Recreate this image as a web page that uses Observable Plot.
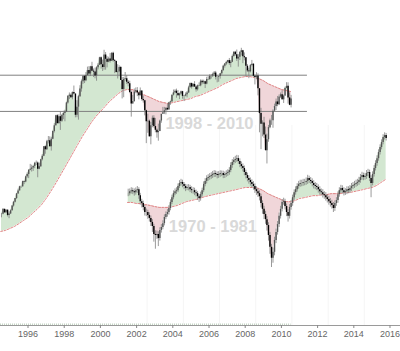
<!DOCTYPE html>
<html><head><meta charset="utf-8">
<script src="https://cdn.jsdelivr.net/npm/d3@7"></script>
<script src="https://cdn.jsdelivr.net/npm/@observablehq/plot@0.6"></script>
<style>html,body{margin:0;padding:0;background:#fff}#chart{width:400px;height:351px}</style>
</head><body><div id="chart"></div>
<script>
// ---- Upper series (monthly, from Jul 1994) ----
const topClose = [458,475,463,472,454,459,
470,487,501,515,533,545,562,562,584,582,605,616,
636,640,646,654,669,671,640,652,687,705,757,741,
786,791,757,801,848,885,954,899,947,915,955,970,
980,1049,1102,1112,1091,1134,1121,957,1017,1099,1164,1229,
1280,1238,1286,1335,1302,1373,1329,1320,1283,1363,1389,1469,
1394,1366,1499,1452,1421,1455,1431,1518,1437,1429,1315,1320,
1366,1240,1160,1249,1256,1224,1211,1134,1041,1060,1139,1148,
1130,1107,1147,1077,1067,990,912,916,815,886,936,880,
856,841,848,917,964,975,990,1008,996,1051,1058,1112,
1131,1145,1126,1107,1121,1141,1102,1104,1115,1130,1174,1212,
1181,1204,1181,1157,1192,1191,1234,1220,1229,1207,1249,1248,
1280,1281,1295,1311,1270,1270,1277,1304,1336,1378,1401,1418,
1438,1407,1421,1482,1531,1503,1455,1474,1527,1549,1481,1468,
1379,1331,1323,1386,1400,1280,1267,1283,1166,969,896,903,
826,735,798,873,919,919,987,1021,1057,1036,1096,1115,
1074,1104,1169,1187,1089,1031,1080];
const topHigh = [461,477,476,474,473,466,
473,488,503,515,534,552,564,565,586,587,608,623,
637,664,660,657,674,681,676,670,689,714,758,762,
794,817,815,812,851,899,957,961,960,983,963,986,
993,1055,1106,1130,1122,1139,1190,1122,1067,1110,1193,1244,
1281,1283,1316,1370,1375,1378,1420,1351,1360,1373,1408,1474,
1478,1444,1553,1527,1481,1475,1517,1525,1531,1450,1434,1395,
1383,1377,1268,1269,1316,1287,1239,1233,1146,1110,1164,1173,
1176,1131,1173,1147,1106,1070,994,965,924,907,952,954,
935,864,896,924,965,1015,1015,1011,1040,1054,1063,1112,
1155,1158,1163,1150,1128,1146,1144,1109,1131,1142,1188,1217,
1217,1212,1229,1192,1199,1219,1246,1245,1243,1233,1270,1276,
1295,1297,1310,1326,1327,1284,1280,1305,1340,1389,1407,1431,
1441,1461,1439,1498,1535,1540,1556,1503,1538,1576,1552,1523,
1471,1396,1359,1397,1440,1404,1292,1314,1303,1167,1008,918,
943,877,832,888,930,956,997,1040,1080,1101,1113,1130,
1150,1113,1180,1220,1219,1131,1110];
const topLow = [446,456,461,460,449,443,
457,469,483,498,511,532,544,555,560,571,579,599,
597,633,627,630,643,658,601,638,649,681,703,716,
737,773,756,733,798,839,883,898,898,855,908,926,
912,980,1040,1076,1086,1074,1114,939,940,923,1094,1137,
1205,1212,1229,1281,1276,1277,1325,1268,1256,1233,1342,1387,
1350,1326,1339,1339,1362,1415,1412,1429,1421,1305,1311,1254,
1275,1240,1081,1091,1233,1203,1182,1125,944,1040,1054,1124,
1100,1074,1106,1063,1048,953,775,837,815,768,872,870,
840,807,789,847,902,963,962,960,990,995,1031,1053,
1105,1124,1087,1105,1076,1113,1079,1060,1098,1090,1127,1173,
1163,1180,1177,1137,1146,1188,1183,1201,1205,1168,1201,1246,
1245,1253,1268,1280,1245,1219,1224,1253,1290,1327,1360,1385,
1403,1389,1364,1416,1476,1485,1429,1370,1439,1489,1406,1435,
1270,1316,1257,1312,1373,1272,1200,1247,1106,840,741,815,
805,735,666,783,866,888,869,978,992,1020,1029,1085,
1071,1045,1101,1166,1040,1028,1011];
// moving average of the upper series, quarterly from Jul 1994
const topMA = [403,406,412,418,427,437,447,461,475,492,515,542,572,607,644,683,725,770,817,860,907,949,984,1021,1060,1093,1126,1151,1160,1160,1143,1126,1109,1093,1076,1060,1052,1044,1052,1060,1068,1076,1084,1101,1109,1126,1143,1160,1177,1203,1221,1239,1258,1268,1277,1277,1268,1258,1239,1212,1194,1177,1160,1151,1143];

// ---- Lower series (1970 - 1981, overlaid, monthly from Jul 2001) ----
const botClose = [534,542,546,542,538,546,550,526,503,496,482,464,
464,454,444,431,418,394,391,394,382,406,415,427,
447,457,464,478,500,518,534,542,546,563,576,580,
572,563,555,559,559,550,546,546,538,534,522,515,
530,546,572,585,598,602,607,611,616,620,616,611,
616,620,620,611,616,620,625,634,658,673,683,688,
693,678,663,653,644,625,611,598,589,580,572,563,
550,542,534,522,496,475,457,440,421,391,358,330,
345,377,400,424,451,475,500,503,485,464,451,482,
496,518,538,550,563,572,576,576,580,580,585,598,
589,585,576,567,563,559,550,542,538,530,526,518,
511,503,496,489,478,496,507,530,546,555,546,538,
542,550,546,555,563,567,572,576,580,589,602,611,
602,607,620,625,598,576,616,644,668,693,725,753,
781,811,823,805];
const botHigh = [552,553,558,556,553,557,563,558,535,512,505,490,
476,472,463,452,440,425,405,404,402,414,424,436,
456,466,474,488,510,528,545,553,558,574,588,594,
590,580,572,570,571,568,562,558,556,548,542,530,
540,556,583,597,610,615,620,624,630,634,632,628,
629,633,632,631,627,633,638,648,672,688,698,705,
710,708,692,676,666,656,636,622,610,600,592,584,
574,562,553,545,532,506,486,468,450,430,400,366,
356,386,410,434,462,486,511,516,512,494,474,492,
507,528,549,562,575,585,590,590,594,594,600,612,
608,602,596,588,580,576,570,562,553,550,542,538,
530,523,515,508,500,506,518,541,558,568,566,558,
554,562,562,567,576,580,585,590,594,603,616,626,
622,621,634,640,636,610,628,658,682,708,740,768,
797,828,840,836];
const botLow = [522,525,532,530,524,528,535,512,490,480,470,452,
450,441,432,418,400,372,353,380,360,375,398,408,
420,440,448,455,470,492,510,526,531,538,555,565,
558,550,542,546,545,538,534,532,526,521,508,500,
505,520,538,562,574,586,590,594,598,602,603,596,
598,603,606,597,598,603,607,612,624,645,660,668,
674,664,648,640,628,610,596,583,573,565,557,548,
535,527,519,506,480,458,440,425,404,375,340,308,
318,336,368,392,415,442,466,490,473,450,432,442,
472,486,508,528,540,552,560,562,564,566,568,572,
576,572,562,553,550,546,536,528,525,517,512,505,
498,490,483,476,464,468,486,497,520,535,533,525,
527,530,534,535,543,551,555,560,564,568,577,590,
588,590,594,605,584,518,566,604,632,655,680,712,
740,768,796,790];
// moving average of the lower series, quarterly from Jul 2001
const botMA = [500,500,496,496,492,489,485,482,482,482,485,489,496,503,507,511,515,522,526,530,534,538,542,546,550,555,559,559,559,555,546,534,526,518,511,503,503,507,515,518,522,526,526,530,530,534,534,534,538,538,542,546,550,555,559,567,580,593];

// horizontal reference levels and labels
const levels = [1290, 985];
const labels = [
  {text: "1998 - 2010", date: "2006-01-10", value: 900},
  {text: "1970 - 1981", date: "2006-03-20", value: 418}
];
const tickYears = [1996,1998,2000,2002,2004,2006,2008,2010,2012,2014,2016];
const gridYears = [2002,2004,2006,2008,2010,2012,2014];

// ---- build tables ----
const U = (y, m, d) => new Date(Date.UTC(y, m, d));
function bars(close, high, low, y0, m0) {
  return close.map((c, i) => ({date: U(y0, m0 + i, 15), open: i ? close[i - 1] : c, close: c, high: high[i], low: low[i]}));
}
function maPts(ma, y0, m0) { return ma.map((v, i) => ({date: U(y0, m0 + 3 * i, 1), ma: v})); }
function withMA(rows, pts) {
  const s = d3.scaleUtc().domain(pts.map(p => p.date)).range(pts.map(p => p.ma)).clamp(true);
  return rows.map(r => ({...r, ma: s(r.date)}));
}
const topBars = withMA(bars(topClose, topHigh, topLow, 1994, 6), maPts(topMA, 1994, 6));
const botBars = withMA(bars(botClose, botHigh, botLow, 2001, 6), maPts(botMA, 2001, 6));
const topMAPts = maPts(topMA, 1994, 6);
const botMAPts = maPts(botMA, 2001, 6);
const allBars = topBars.concat(botBars);

const X0 = U(1994, 5, 25), X1 = U(2016, 6, 31);
const GREEN = "#d3e7d1", PINK = "#f0d6d9";

function fills(rows) {
  return [
    Plot.areaY(rows, {x: "date", y1: "ma", y2: d => Math.max(d.close, d.ma), fill: GREEN}),
    Plot.areaY(rows, {x: "date", y1: "ma", y2: d => Math.min(d.close, d.ma), fill: PINK})
  ];
}

const chart = Plot.plot({
  width: 400, height: 351,
  marginTop: 0, marginRight: 0, marginBottom: 26, marginLeft: 0,
  x: {type: "utc", domain: [X0, X1]},
  y: {type: "log", domain: [200, 2250], axis: null},
  style: {background: "#fff", fontFamily: "'Liberation Sans', Arial, sans-serif", fontSize: "9px", color: "#666"},
  marks: [
    Plot.ruleX(gridYears.map(y => U(y, 7, 1)), {y1: 887, y2: 200, stroke: "#f5f5f5"}),
    ...fills(topBars),
    ...fills(botBars),
    Plot.text(labels, {x: d => new Date(d.date), y: "value", text: "text", fontSize: 16.5, fontWeight: "bold", fill: "#d9d9d9"}),
    Plot.ruleY(levels, {x1: X0, x2: U(2011, 5, 10), stroke: "#808080", strokeWidth: 1}),
    Plot.line(topMAPts, {x: "date", y: "ma", stroke: "#d77", strokeWidth: 0.9, strokeDasharray: "2,1.5"}),
    Plot.line(botMAPts, {x: "date", y: "ma", stroke: "#d77", strokeWidth: 0.9, strokeDasharray: "2,1.5"}),
    Plot.ruleX(allBars, {x: "date", y1: "low", y2: "high", stroke: "#808080", strokeWidth: 0.8}),
    Plot.ruleX(allBars.filter(d => d.close >= d.open), {x: "date", y1: "open", y2: "close", stroke: "#555", strokeWidth: 1.4}),
    Plot.ruleX(allBars.filter(d => d.close < d.open), {x: "date", y1: "open", y2: "close", stroke: "#000", strokeWidth: 1.4}),
    Plot.ruleY([202], {x1: X0, x2: U(2010, 6, 15), stroke: "#a9c2a9", strokeDasharray: "1,1"}),
    Plot.ruleY([200], {stroke: "#9a9a9a"}),
    Plot.axisX({ticks: tickYears.map(y => U(y, 0, 1)), tickFormat: d3.utcFormat("%Y"), tickSize: 3, tickPadding: 2, fontSize: 9, label: null, stroke: "#888", fill: "#666"})
  ]
});
document.getElementById("chart").appendChild(chart);
</script>
</body></html>
